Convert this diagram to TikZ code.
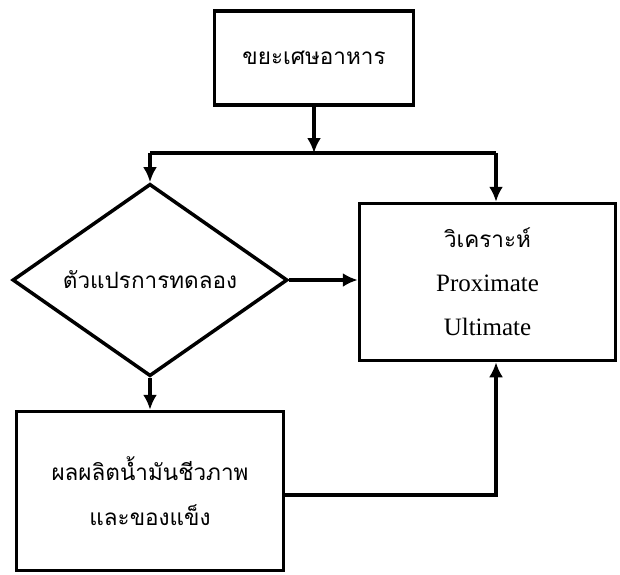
\documentclass[tikz,border=0pt]{standalone}
\usepackage{fontspec}
\setmainfont{Liberation Serif}
\newfontfamily\thaifont[Script=Thai]{Loma}
\usetikzlibrary{shapes.geometric,arrows.meta}
\tikzset{
  BoxStyle/.style = { rectangle, draw, line width = 3.5pt,
                      inner sep = 0pt, align = center },
  FlowStyle/.style = { line width = 3.5pt },
  FlowArrow/.style = { FlowStyle, -{Latex[length=15pt,width=14pt]} } }

\begin{document}
\begin{tikzpicture}[x=1pt,y=-1pt]
  \useasboundingbox (0,0) rectangle (620,574);
  \tikzstyle{DecisionStyle}=[diamond, draw, line width = 3.5pt, inner sep = 0pt,
                              minimum width = 275pt, minimum height = 161pt]
  % boxes
  \node[BoxStyle, minimum width = 199pt, minimum height = 94pt]
     (waste) at (314,58) {\thaifont\fontsize{22.5}{26}\selectfont ขยะเศษอาหาร};
  \node[DecisionStyle]
     (factor) at (150,280) {\thaifont\fontsize{22.5}{26}\selectfont ตัวแปรการทดลอง};
  \node[BoxStyle, minimum width = 256pt, minimum height = 157pt, font = \fontsize{25}{44}\selectfont]
     (analysis) at (487.5,282) {{\thaifont\fontsize{22.5}{44}\selectfont วิเคราะห์}\\Proximate\\Ultimate};
  \node[BoxStyle, minimum width = 267pt, minimum height = 159pt, font = \thaifont\fontsize{22.5}{45}\selectfont]
     (product) at (150,491) {ผลผลิตน้ำมันชีวภาพ\\และของแข็ง};

  \coordinate (split) at (314,153);
  \coordinate (left) at (150,153);
  \coordinate (right) at (496,153);

  % connectors
  \draw[FlowArrow] (waste) -- (split);
  \draw[FlowStyle] (left) -- (right);
  \draw[FlowArrow] (left) -- (factor.north);
  \draw[FlowArrow] (right) -- (right |- analysis.north);
  \draw[FlowArrow] (factor.east) -- (factor.east -| analysis.west);
  \draw[FlowArrow] (factor.south) -- (product.north);
  \draw[FlowArrow] (product.east |- 0,495) -| (right |- analysis.south);
\end{tikzpicture}
\end{document}
